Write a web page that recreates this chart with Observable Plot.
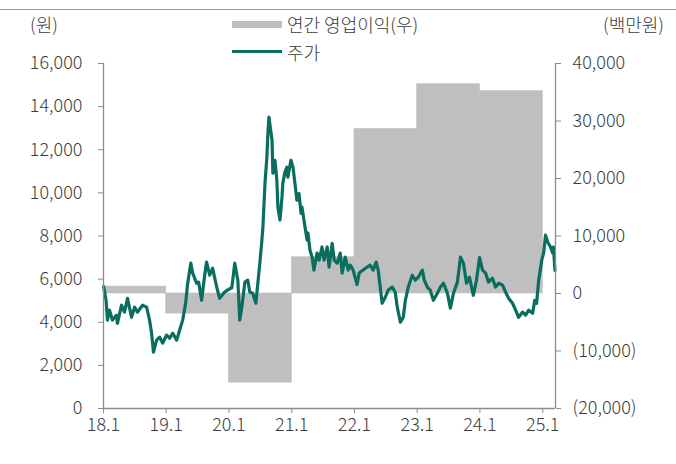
<!DOCTYPE html>
<html>
<head>
<meta charset="utf-8">
<script src="https://cdn.jsdelivr.net/npm/d3@7"></script>
<script src="https://cdn.jsdelivr.net/npm/@observablehq/plot@0.6"></script>
<style>
  html, body { margin: 0; padding: 0; background: #fff; }
  #wrap { position: relative; width: 676px; height: 464px; font-family: 'Noto Sans CJK KR', 'Noto Sans', sans-serif; font-weight: 300; color: #3a3a3a; }
  #wrap svg text { font-weight: 300; }
  .topline { position: absolute; left: 0; top: 9px; width: 676px; height: 0; border-top: 1.5px solid #9a9a9a; }
  .lbl { position: absolute; font-size: 18px; line-height: 18px; white-space: nowrap; }
  .sw-bar { position: absolute; left: 232px; top: 21px; width: 50px; height: 7px; background: #bfbfbf; }
  .sw-line { position: absolute; left: 232px; top: 50px; width: 50px; height: 3px; background: #0a6e5f; }
</style>
</head>
<body>
<div id="wrap">
  <div class="topline"></div>
  <div class="lbl" style="left:30px; top:15px;">(원)</div>
  <div class="lbl" style="right:12px; top:15px;">(백만원)</div>
  <div class="sw-bar"></div>
  <div class="lbl" style="left:287px; top:15px;">연간 영업이익(우)</div>
  <div class="sw-line"></div>
  <div class="lbl" style="left:287px; top:43px;">주가</div>
</div>
<script>
// ---- data ----
const profitYears = ["2018", "2019", "2020", "2021", "2022", "2023", "2024"];
const opProfit = [1200, -3500, -15500, 6300, 28600, 36400, 35200]; // 백만원

const priceDates = [
  "2018-01-02","2018-01-16","2018-01-24","2018-02-05","2018-02-22","2018-03-17","2018-03-23","2018-04-16",
  "2018-05-03","2018-05-21","2018-06-13","2018-07-01","2018-07-18","2018-08-16","2018-09-09","2018-09-26",
  "2018-10-08","2018-10-19","2018-11-06","2018-11-24","2018-12-11","2019-01-03","2019-01-21","2019-02-08",
  "2019-03-03","2019-03-20","2019-04-07","2019-04-24","2019-05-06","2019-05-24","2019-06-04","2019-06-27",
  "2019-07-09","2019-07-26","2019-08-13","2019-08-24","2019-09-11","2019-09-28","2019-10-22","2019-11-08",
  "2019-12-07","2019-12-25","2020-01-18","2020-02-04","2020-02-22","2020-03-04","2020-03-16","2020-04-03",
  "2020-04-20","2020-05-02","2020-05-19","2020-06-06","2020-06-18","2020-06-29","2020-07-11","2020-07-17",
  "2020-07-29","2020-08-09","2020-08-15","2020-08-21","2020-09-08","2020-09-13","2020-09-25","2020-10-06",
  "2020-10-12","2020-10-24","2020-11-05","2020-11-10","2020-11-22","2020-12-03","2020-12-09","2020-12-27",
  "2021-01-08","2021-01-19","2021-01-31","2021-02-12","2021-02-24","2021-03-01","2021-03-19","2021-03-31",
  "2021-04-05","2021-04-17","2021-04-29","2021-05-10","2021-05-28","2021-06-09","2021-06-26","2021-07-08",
  "2021-07-26","2021-08-06","2021-08-24","2021-09-05","2021-09-22","2021-10-10","2021-10-21","2021-11-08",
  "2021-11-25","2021-12-07","2021-12-24","2022-01-16","2022-01-28","2022-02-20","2022-03-16","2022-04-02",
  "2022-04-20","2022-05-07","2022-05-19","2022-06-11","2022-06-29","2022-07-16","2022-08-09","2022-08-26",
  "2022-09-07","2022-09-25","2022-10-12","2022-10-24","2022-11-10","2022-12-03","2022-12-21","2023-01-07",
  "2023-01-31","2023-02-11","2023-03-01","2023-03-18","2023-04-05","2023-04-28","2023-05-16","2023-06-03",
  "2023-06-26","2023-07-13","2023-07-31","2023-08-23","2023-09-10","2023-09-27","2023-10-15","2023-11-01",
  "2023-11-24","2023-12-12","2023-12-30","2024-01-16","2024-02-03","2024-02-20","2024-03-14","2024-04-01",
  "2024-04-19","2024-05-12","2024-05-30","2024-06-16","2024-07-09","2024-07-27","2024-08-13","2024-09-06",
  "2024-09-23","2024-10-11","2024-11-03","2024-11-15","2024-11-26","2024-12-08","2024-12-26","2025-01-06",
  "2025-01-17","2025-01-29","2025-02-15","2025-02-27","2025-03-04","2025-03-13"
];
const prices = [
  5650,5020,4100,4560,4100,4330,3950,4790,
  4470,5110,4230,4700,4470,4790,4700,4100,
  3490,2610,3170,3310,3030,3400,3260,3490,
  3170,3630,4100,4880,5810,6740,6280,5810,
  5860,5020,6180,6790,6180,6510,5630,5110,
  5400,5500,5600,6740,5950,4100,4700,5860,
  5950,5390,5340,4880,5860,6740,7810,8420,
  10460,11660,12770,13510,12440,10910,11510,10590,
  9340,8740,9810,10460,10960,11190,10730,11510,
  11190,10460,9660,9970,9050,9340,8420,7810,
  8140,7340,7020,6420,7210,6880,7490,6880,
  7490,6560,7660,6880,6740,7210,6280,7020,
  6420,6650,6420,5750,6280,6420,6560,6650,
  6420,6790,6420,4880,5160,5490,5630,5390,
  4700,4000,4230,5020,5630,6180,5950,6090,
  6420,5950,5630,5490,5020,5340,5630,5810,
  5340,4650,5340,5860,7020,6740,5810,6090,
  5250,5950,7000,6420,6280,5860,6040,5630,
  5810,5720,5390,5110,4880,4560,4230,4470,
  4330,4560,4420,5020,4880,5950,6880,7210,
  8040,7720,7490,7210,7490,6400
];

const xTickDates = ["2018-01-01","2019-01-01","2020-01-01","2021-01-01","2022-01-01","2023-01-01","2024-01-01","2025-01-01"];
const leftTicks = [0, 2000, 4000, 6000, 8000, 10000, 12000, 14000, 16000];
const rightTicks = [-20000, -10000, 0, 10000, 20000, 30000, 40000];

// ---- helpers ----
const leftMax = 16000, rightMin = -20000, rightMax = 40000;
const toLeft = v => (v - rightMin) * leftMax / (rightMax - rightMin);
const fromLeft = l => Math.round(l * (rightMax - rightMin) / leftMax + rightMin);
const fmt = d3.format(",");
const fmtRight = v => v < 0 ? `(${fmt(-v)})` : fmt(v);

const xStart = new Date("2018-01-01");
const xEnd = new Date("2025-03-16");

const bars = profitYears.map((y, i) => ({
  start: new Date(`${y}-01-01`),
  end: new Date(`${+y + 1}-01-01`),
  value: opProfit[i]
}));
const priceData = priceDates.map((d, i) => ({date: new Date(d), price: prices[i]}));

const axisColor = "#8c8c8c";
const textColor = "#3a3a3a";

const chart = Plot.plot({
  width: 676,
  height: 464,
  marginLeft: 103,
  marginRight: 121,
  marginTop: 63,
  marginBottom: 56,
  style: {fontFamily: "'Noto Sans CJK KR', 'Noto Sans', sans-serif", fontSize: "18px", color: textColor, background: "transparent"},
  x: {type: "utc", domain: [xStart, xEnd]},
  y: {domain: [0, leftMax]},
  marks: [
    Plot.rect(bars, {x1: "start", x2: "end", y1: () => toLeft(0), y2: d => toLeft(d.value), fill: "#bfbfbf", stroke: "#bfbfbf", strokeWidth: 0.6, inset: 0}),
    Plot.line(priceData, {x: "date", y: "price", stroke: "#0a6e5f", strokeWidth: 3.2, strokeLinejoin: "round"}),
    Plot.ruleX([xStart], {y1: 0, y2: leftMax, stroke: axisColor, strokeWidth: 1.3}),
    Plot.ruleX([xEnd], {y1: 0, y2: leftMax, stroke: axisColor, strokeWidth: 1.3}),
    Plot.ruleY([0], {stroke: axisColor, strokeWidth: 1.3}),
    Plot.axisY(leftTicks, {anchor: "left", tickFormat: fmt, tickSize: 5, tickPadding: 16, stroke: axisColor, fill: textColor, label: null}),
    Plot.axisY(rightTicks.map(toLeft), {anchor: "right", tickFormat: l => fmtRight(fromLeft(l)), tickSize: 5, tickPadding: 12, stroke: axisColor, fill: textColor, label: null}),
    Plot.axisX(xTickDates.map(d => new Date(d)), {anchor: "bottom", tickFormat: d3.utcFormat("%y.%-m"), tickSize: 5, tickPadding: 5, stroke: axisColor, fill: textColor, label: null})
  ]
});
chart.style.position = "absolute";
chart.style.left = "0px";
chart.style.top = "0px";
document.getElementById("wrap").prepend(chart);
</script>
</body>
</html>
